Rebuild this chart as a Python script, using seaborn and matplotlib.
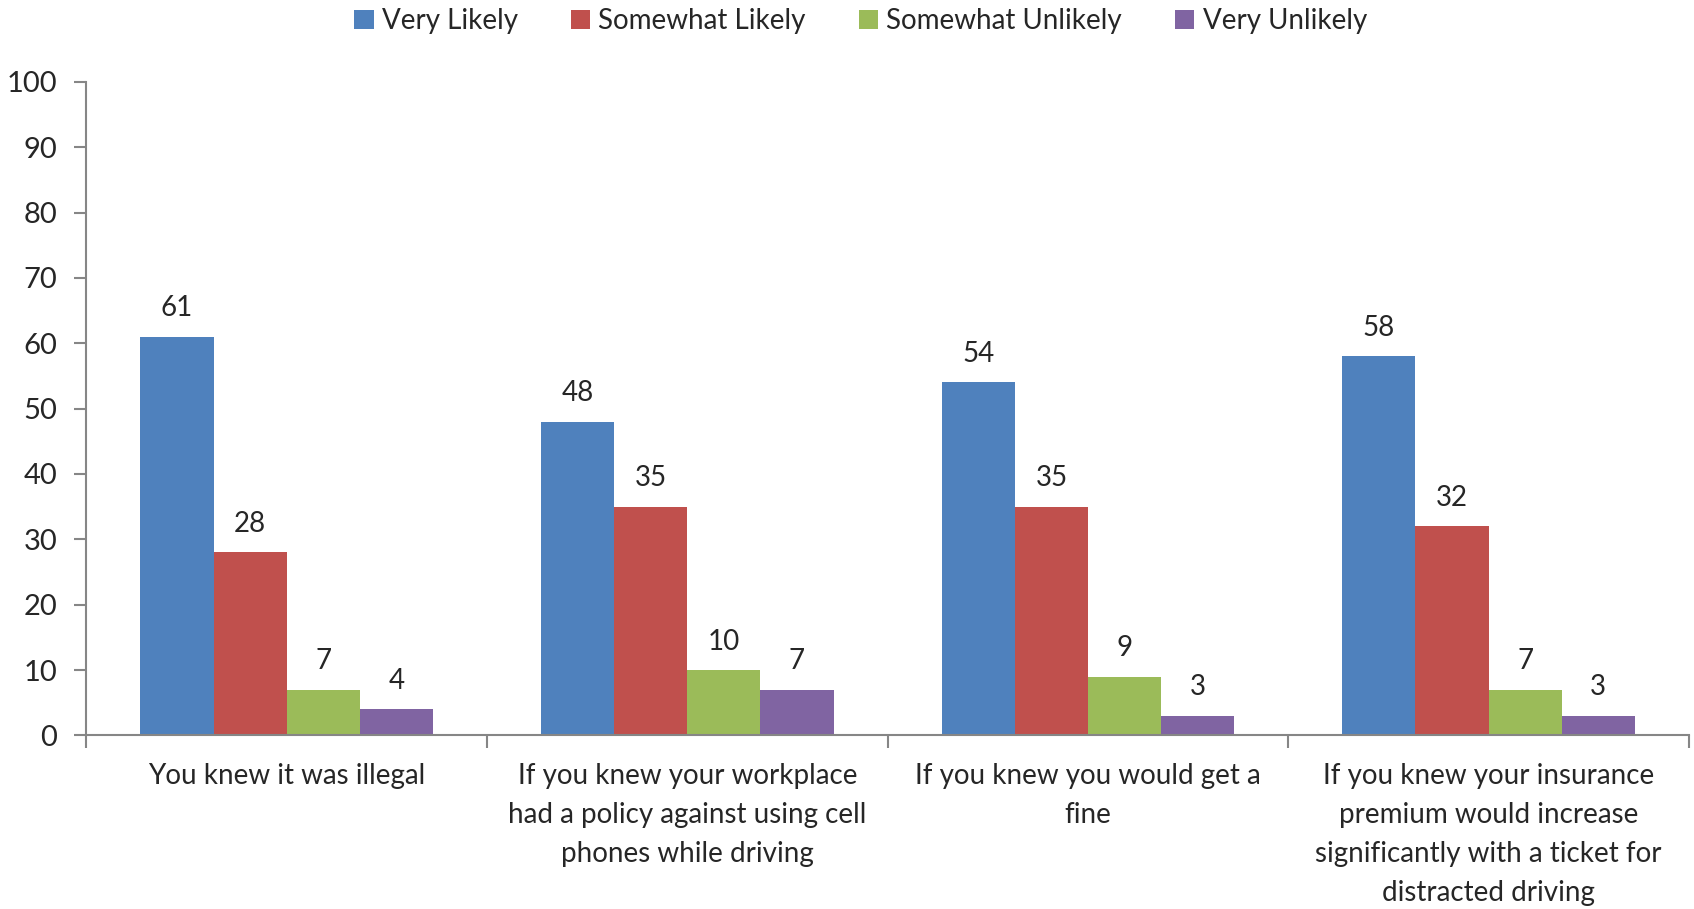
import pandas as pd
import matplotlib.pyplot as plt
import seaborn as sns

# survey values
categories = [
    'You knew it was illegal',
    'If you knew your workplace\nhad a policy against using cell\nphones while driving',
    'If you knew you would get a\nfine',
    'If you knew your insurance\npremium would increase\nsignificantly with a ticket for\ndistracted driving',
]
series = ['Very Likely', 'Somewhat Likely', 'Somewhat Unlikely', 'Very Unlikely']
very_likely = [61, 48, 54, 58]
somewhat_likely = [28, 35, 35, 32]
somewhat_unlikely = [7, 10, 9, 7]
very_unlikely = [4, 7, 3, 3]

colors = ['#4F81BD', '#C0504D', '#9BBB59', '#8064A2']

sns.set_style('white')
plt.rcParams['font.family'] = ['Lato', 'DejaVu Sans']

rows = []
for name, vals in zip(series, [very_likely, somewhat_likely, somewhat_unlikely, very_unlikely]):
    for cat, v in zip(categories, vals):
        rows.append([cat, name, v])
df = pd.DataFrame(rows, columns=['Category', 'Response', 'Percent'])

fig = plt.figure(figsize=(16.94, 9.09), dpi=100)
ax = fig.add_axes([0.051, 0.191, 0.946, 0.719])

sns.barplot(data=df, x='Category', y='Percent', hue='Response', hue_order=series,
            order=categories, palette=colors, width=0.73, saturation=1,
            edgecolor='none', ax=ax)

for cont in ax.containers:
    ax.bar_label(cont, fmt='%d', padding=11, fontsize=20)

ax.set_ylim(0, 100)
ax.set_xlim(-0.5, len(categories) - 0.5)
ax.set_yticks(range(0, 101, 10))
ax.set_xlabel('')
ax.set_ylabel('')

# category boundary ticks like the original
ax.set_xticks([i - 0.5 for i in range(len(categories) + 1)], minor=True)
ax.tick_params(axis='x', which='major', bottom=True, length=0, pad=20, labelsize=20)
ax.tick_params(axis='x', which='minor', bottom=True, length=9, width=1.5, color='#868686', direction='out')
ax.tick_params(axis='y', left=True, length=9, width=1.5, color='#868686', direction='out', labelsize=21, pad=12)
for lab in ax.get_xticklabels():
    lab.set_linespacing(1.62)

sns.despine(ax=ax, top=True, right=True)
ax.spines['left'].set_color('#868686')
ax.spines['bottom'].set_color('#868686')
ax.spines['left'].set_linewidth(1.5)
ax.spines['bottom'].set_linewidth(1.5)

ax.legend(loc='center', bbox_to_anchor=(0.483, 1.093), ncol=4, frameon=False,
          fontsize=20, handlelength=0.7, handleheight=0.7, handletextpad=0.3,
          columnspacing=1.9)

fig.savefig('out.png', dpi=100)
